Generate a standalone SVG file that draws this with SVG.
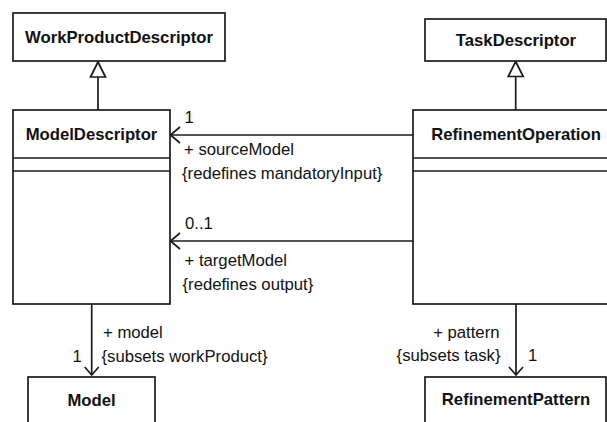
<svg xmlns="http://www.w3.org/2000/svg" width="607" height="422" viewBox="0 0 607 422">
  <style>
    .box { fill: #ffffff; stroke: #1a1a1a; stroke-width: 1.7; }
    .sep { stroke: #1a1a1a; stroke-width: 1.7; fill: none; }
    .name { font-family: "Liberation Sans", Arial, sans-serif; font-size: 16.7px; font-weight: bold; fill: #111111; text-anchor: middle; }
    .lbl { font-family: "Liberation Sans", Arial, sans-serif; font-size: 16.7px; fill: #111111; }
    .end { text-anchor: end; }
    .line { stroke: #1a1a1a; stroke-width: 1.7; fill: none; }
    .open { stroke: #1a1a1a; stroke-width: 1.7; fill: none; stroke-linejoin: miter; }
    .gen { stroke: #1a1a1a; stroke-width: 1.7; fill: #ffffff; stroke-linejoin: miter; }
  </style>
  <rect width="607" height="422" fill="#ffffff"/>

  <!-- connectors -->
  <g id="connectors">
    <!-- ModelDescriptor generalizes WorkProductDescriptor -->
    <line class="line" x1="98" y1="110" x2="98" y2="77"/>
    <polygon class="gen" points="98,62 90.5,77 105.5,77"/>
    <!-- RefinementOperation generalizes TaskDescriptor -->
    <line class="line" x1="515.7" y1="110" x2="515.7" y2="76.5"/>
    <polygon class="gen" points="515.7,61.5 508.2,76.5 523.2,76.5"/>
    <!-- sourceModel association -->
    <line class="line" x1="413" y1="135" x2="170.5" y2="135"/>
    <polyline class="open" points="180,127 170.5,135 180,143"/>
    <!-- targetModel association -->
    <line class="line" x1="413" y1="241" x2="170.5" y2="241"/>
    <polyline class="open" points="180,233 170.5,241 180,249"/>
    <!-- model association -->
    <line class="line" x1="91.7" y1="304" x2="91.7" y2="375"/>
    <polyline class="open" points="84.7,367 91.7,375 98.7,367"/>
    <!-- pattern association -->
    <line class="line" x1="516" y1="304" x2="516" y2="375"/>
    <polyline class="open" points="509,367 516,375 523,367"/>

    <!-- association end labels -->
    <text class="lbl" x="184.5" y="123">1</text>
    <text class="lbl" x="184" y="155">+ sourceModel</text>
    <text class="lbl" x="182" y="179">{redefines mandatoryInput}</text>

    <text class="lbl" x="185" y="229">0..1</text>
    <text class="lbl" x="184.5" y="266">+ targetModel</text>
    <text class="lbl" x="182.5" y="290">{redefines output}</text>

    <text class="lbl" x="103" y="338">+ model</text>
    <text class="lbl" x="101.5" y="361.5">{subsets workProduct}</text>
    <text class="lbl" x="72.5" y="361.5">1</text>

    <text class="lbl end" x="499.5" y="338">+ pattern</text>
    <text class="lbl end" x="500.5" y="361">{subsets task}</text>
    <text class="lbl" x="528" y="361">1</text>
  </g>

  <g id="WorkProductDescriptor">
    <rect class="box" x="13" y="13" width="212" height="48"/>
    <text class="name" x="119" y="42.5">WorkProductDescriptor</text>
  </g>

  <g id="TaskDescriptor">
    <rect class="box" x="425" y="19" width="181" height="42"/>
    <text class="name" x="516" y="45.5">TaskDescriptor</text>
  </g>

  <g id="ModelDescriptor">
    <rect class="box" x="13" y="110" width="157" height="194"/>
    <line class="sep" x1="13" y1="158" x2="170" y2="158"/>
    <line class="sep" x1="13" y1="171" x2="170" y2="171"/>
    <text class="name" x="91.5" y="139.5">ModelDescriptor</text>
  </g>

  <g id="RefinementOperation">
    <rect class="box" x="413" y="110" width="210" height="194"/>
    <line class="sep" x1="413" y1="158" x2="623" y2="158"/>
    <line class="sep" x1="413" y1="171" x2="623" y2="171"/>
    <text class="name" x="516" y="140">RefinementOperation</text>
  </g>

  <g id="Model">
    <rect class="box" x="28" y="377" width="127" height="60"/>
    <text class="name" x="91.5" y="406">Model</text>
  </g>

  <g id="RefinementPattern">
    <rect class="box" x="425" y="377" width="181" height="60"/>
    <text class="name" x="516" y="404.5">RefinementPattern</text>
  </g>
</svg>
